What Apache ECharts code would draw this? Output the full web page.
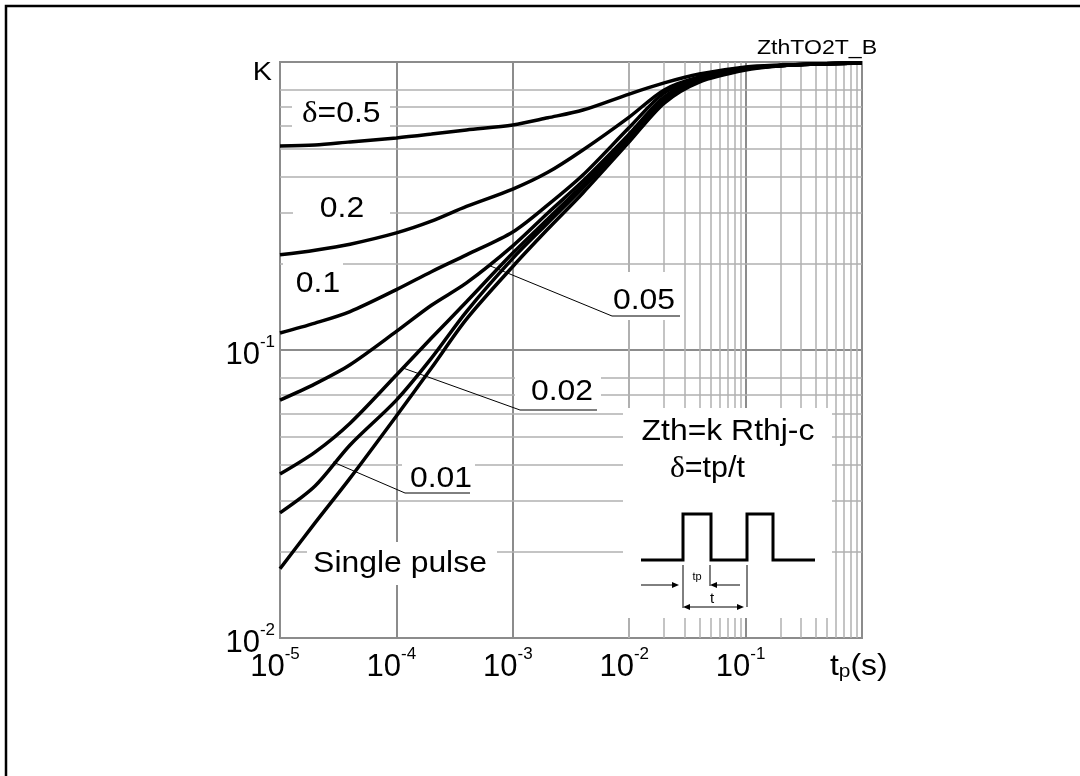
<!DOCTYPE html>
<html><head><meta charset="utf-8">
<script src="https://cdn.jsdelivr.net/npm/echarts@6/dist/echarts.min.js"></script>
<style>html,body{margin:0;padding:0;background:#fff;}#c{width:1080px;height:776px;}</style>
</head><body><div id="c"></div>
<script>
// pulse duration tp (s)
const tp = [1e-5, 2e-5, 4e-5, 1e-4, 2e-4, 4e-4, 1e-3, 2e-3, 4e-3, 1e-2, 2e-2, 4e-2, 1e-1, 2e-1, 4e-1, 1];
// K = Zth / Rthj-c for each duty cycle
const kD05    = [0.511, 0.515, 0.528, 0.545, 0.562, 0.581, 0.604, 0.640, 0.681, 0.774, 0.846, 0.908, 0.961, 0.976, 0.984, 0.992];
const kD02    = [0.214, 0.222, 0.233, 0.255, 0.280, 0.315, 0.362, 0.414, 0.495, 0.644, 0.800, 0.887, 0.953, 0.972, 0.984, 0.992];
const kD01    = [0.1146, 0.124, 0.136, 0.162, 0.187, 0.214, 0.257, 0.319, 0.405, 0.592, 0.781, 0.880, 0.953, 0.972, 0.984, 0.992];
const kD005   = [0.067, 0.0763, 0.0889, 0.116, 0.143, 0.171, 0.230, 0.299, 0.386, 0.562, 0.756, 0.873, 0.946, 0.972, 0.984, 0.992];
const kD002   = [0.0371, 0.0442, 0.0557, 0.0819, 0.110, 0.147, 0.217, 0.285, 0.374, 0.548, 0.744, 0.866, 0.946, 0.972, 0.984, 0.992];
const kD001   = [0.0272, 0.0337, 0.0468, 0.0670, 0.0937, 0.136, 0.208, 0.276, 0.365, 0.540, 0.732, 0.859, 0.946, 0.972, 0.984, 0.992];
const kSingle = [0.0174, 0.0251, 0.0359, 0.0590, 0.0866, 0.128, 0.195, 0.263, 0.351, 0.528, 0.720, 0.852, 0.938, 0.969, 0.984, 0.992];
// grid decades & mantissas for minor grid lines
const xDecades = [1e-5, 1e-4, 1e-3, 1e-2, 1e-1];
const xMant = [2, 3, 4, 5, 6, 7, 8, 9];
const yDecades = [1e-2, 1e-1];
const yMant = [2, 3, 4, 5, 6, 7, 8];

const FONT = '"Liberation Sans", Arial, sans-serif';
const SERIF = '"Liberation Serif", "DejaVu Serif", serif';

const xMinor = [];
xDecades.forEach(d => xMant.forEach(m => xMinor.push(+(d * m).toPrecision(6))));
const yMinor = [];
yDecades.forEach(d => yMant.forEach(m => yMinor.push(+(d * m).toPrecision(6))));

const curves = [kD05, kD02, kD01, kD005, kD002, kD001, kSingle];
const curveNames = ['0.5', '0.2', '0.1', '0.05', '0.02', '0.01', 'Single pulse'];

function expFmt(v) {
  const e = Math.round(Math.log10(v));
  if (e === 0) return '';
  return '{b|10}{s|' + e + '}';
}

const series = [{
  type: 'line', data: [[1e-5, 0.01]], symbol: 'none', silent: true,
  lineStyle: { opacity: 0 }, z: 1, animation: false,
  markLine: {
    silent: true, z: 1, animation: false, symbol: ['none', 'none'],
    label: { show: false }, emphasis: { disabled: true },
    lineStyle: { color: '#b0b0b0', width: 1.5, type: 'solid' },
    data: xMinor.map(v => ({ xAxis: v })).concat(yMinor.map(v => ({ yAxis: v })))
  }
}].concat(curves.map((c, i) => ({
  type: 'line', name: curveNames[i], data: tp.map((x, j) => [x, c[j]]),
  symbol: 'none', showSymbol: false, smooth: 0.3, z: 10, animation: false,
  lineStyle: { color: '#000', width: 3.5 }
})));

function box(x, y, w, h) {
  return { type: 'rect', z: 8, shape: { x, y, width: w, height: h }, style: { fill: '#fff' }, silent: true };
}
function txt(x, y, text, size, align, sx) {
  return { type: 'text', z: 9, silent: true, x, y, scaleX: sx || 1, style: {
    x: 0, y: 0, text, fontSize: size, fontFamily: FONT, fill: '#000',
    align: align || 'center', verticalAlign: 'middle', textAlign: align || 'center', textVerticalAlign: 'middle'
  } };
}
function rtxt(x, y, text, rich, align, sx) {
  return { type: 'text', z: 9, silent: true, x, y, scaleX: sx || 1, style: {
    x: 0, y: 0, text, rich, fill: '#000', fontFamily: FONT,
    align: align || 'left', verticalAlign: 'middle', textAlign: align || 'left', textVerticalAlign: 'middle'
  } };
}
function seg(x1, y1, x2, y2, w) {
  return { type: 'line', z: 11, silent: true, shape: { x1, y1, x2, y2 }, style: { stroke: '#000', lineWidth: w || 1 } };
}
function poly(points) {
  return { type: 'polygon', z: 11, silent: true, shape: { points }, style: { fill: '#000' } };
}
const dRich = { g: { fontFamily: SERIF, fontSize: 30 }, n: { fontFamily: FONT, fontSize: 29 } };
const SX = 1.1;

const graphic = [
  { type: 'rect', z: 0, silent: true, shape: { x: 6, y: 6, width: 1100, height: 800 }, style: { fill: 'none', stroke: '#000', lineWidth: 2.5 } },
  // label backgrounds
  box(292, 100, 98, 28), box(293, 185, 97, 43), box(283, 263, 60, 40),
  box(605, 272, 78, 48), box(515, 373, 86, 40), box(402, 463, 73, 34),
  box(307, 542, 190, 43), box(623, 408, 209, 210),
  // labels
  rtxt(302, 114, '{g|δ}{n|=0.5}', dRich, 'left', SX),
  txt(342, 209, '0.2', 29, 'center', SX), txt(318, 284, '0.1', 29, 'center', SX),
  txt(644, 301, '0.05', 29, 'center', SX), txt(562, 392, '0.02', 29, 'center', SX), txt(441, 479, '0.01', 29, 'center', SX),
  txt(400, 564, 'Single pulse', 29, 'center', SX),
  // pointers
  seg(488, 265, 612, 316), seg(612, 316, 680, 316),
  seg(403, 368, 520, 410), seg(520, 410, 597, 410),
  seg(333, 462, 405, 493), seg(405, 493, 470, 493),
  // corner texts
  txt(272, 73, 'K', 25, 'right', 1.15),
  txt(817, 48, 'ZthTO2T_B', 21, 'center', 1.1),
  rtxt(830, 667, '{a|t}{p|p}{a|(s)}', { a: { fontSize: 29, fontFamily: FONT }, p: { fontSize: 19, fontFamily: FONT, verticalAlign: 'bottom' } }, 'left', 1.1),
  // inset
  txt(728, 432, 'Zth=k Rthj-c', 29, 'center', 1.1),
  rtxt(670, 469, '{g|δ}{n|=tp/t}', dRich, 'left', 1.05),
  { type: 'polyline', z: 9, silent: true, shape: { points: [[641,560],[683,560],[683,514],[711,514],[711,560],[747,560],[747,514],[773,514],[773,560],[815,560]] }, style: { stroke: '#000', lineWidth: 3, fill: 'none' } },
  seg(683, 565, 683, 608), seg(710, 565, 710, 586), seg(747, 565, 747, 607),
  seg(641, 585, 675, 585), poly([[679,585],[672,582],[672,588]]),
  seg(740, 585, 714, 585), poly([[710,585],[717,582],[717,588]]),
  seg(687, 607, 740, 607), poly([[683,607],[690,604],[690,610]]), poly([[744,607],[737,604],[737,610]]),
  txt(697, 577, 'tp', 11), txt(712, 599, 't', 15)
];

const chart = echarts.init(document.getElementById('c'), null, { renderer: 'canvas' });
chart.setOption({
  animation: false,
  backgroundColor: '#fff',
  grid: { left: 280, top: 62, width: 582, height: 576, show: true, borderColor: '#8c8c8c', borderWidth: 2, backgroundColor: 'transparent' },
  xAxis: {
    type: 'log', logBase: 10, min: 1e-5, max: 1, splitNumber: 5,
    axisLine: { show: true, lineStyle: { color: '#8c8c8c', width: 2 } },
    axisTick: { show: false }, minorTick: { show: false },
    splitLine: { show: true, lineStyle: { color: '#8c8c8c', width: 2 } },
    axisLabel: { margin: 8, color: '#000', formatter: expFmt, rich: {
      b: { fontSize: 31, fontFamily: FONT, color: '#000' },
      s: { fontSize: 17, fontFamily: FONT, color: '#000', padding: [0, 10, 26, 0] } } }
  },
  yAxis: {
    type: 'log', logBase: 10, min: 0.01, max: 1, splitNumber: 2,
    axisLine: { show: true, lineStyle: { color: '#8c8c8c', width: 2 } },
    axisTick: { show: false }, minorTick: { show: false },
    splitLine: { show: true, lineStyle: { color: '#8c8c8c', width: 2 } },
    axisLabel: { margin: 5, color: '#000', formatter: expFmt, rich: {
      b: { fontSize: 31, fontFamily: FONT, color: '#000', padding: [10, 0, 0, 0] },
      s: { fontSize: 17, fontFamily: FONT, color: '#000', padding: [0, 0, 16, 0] } } }
  },
  series,
  graphic
});
</script></body></html>
